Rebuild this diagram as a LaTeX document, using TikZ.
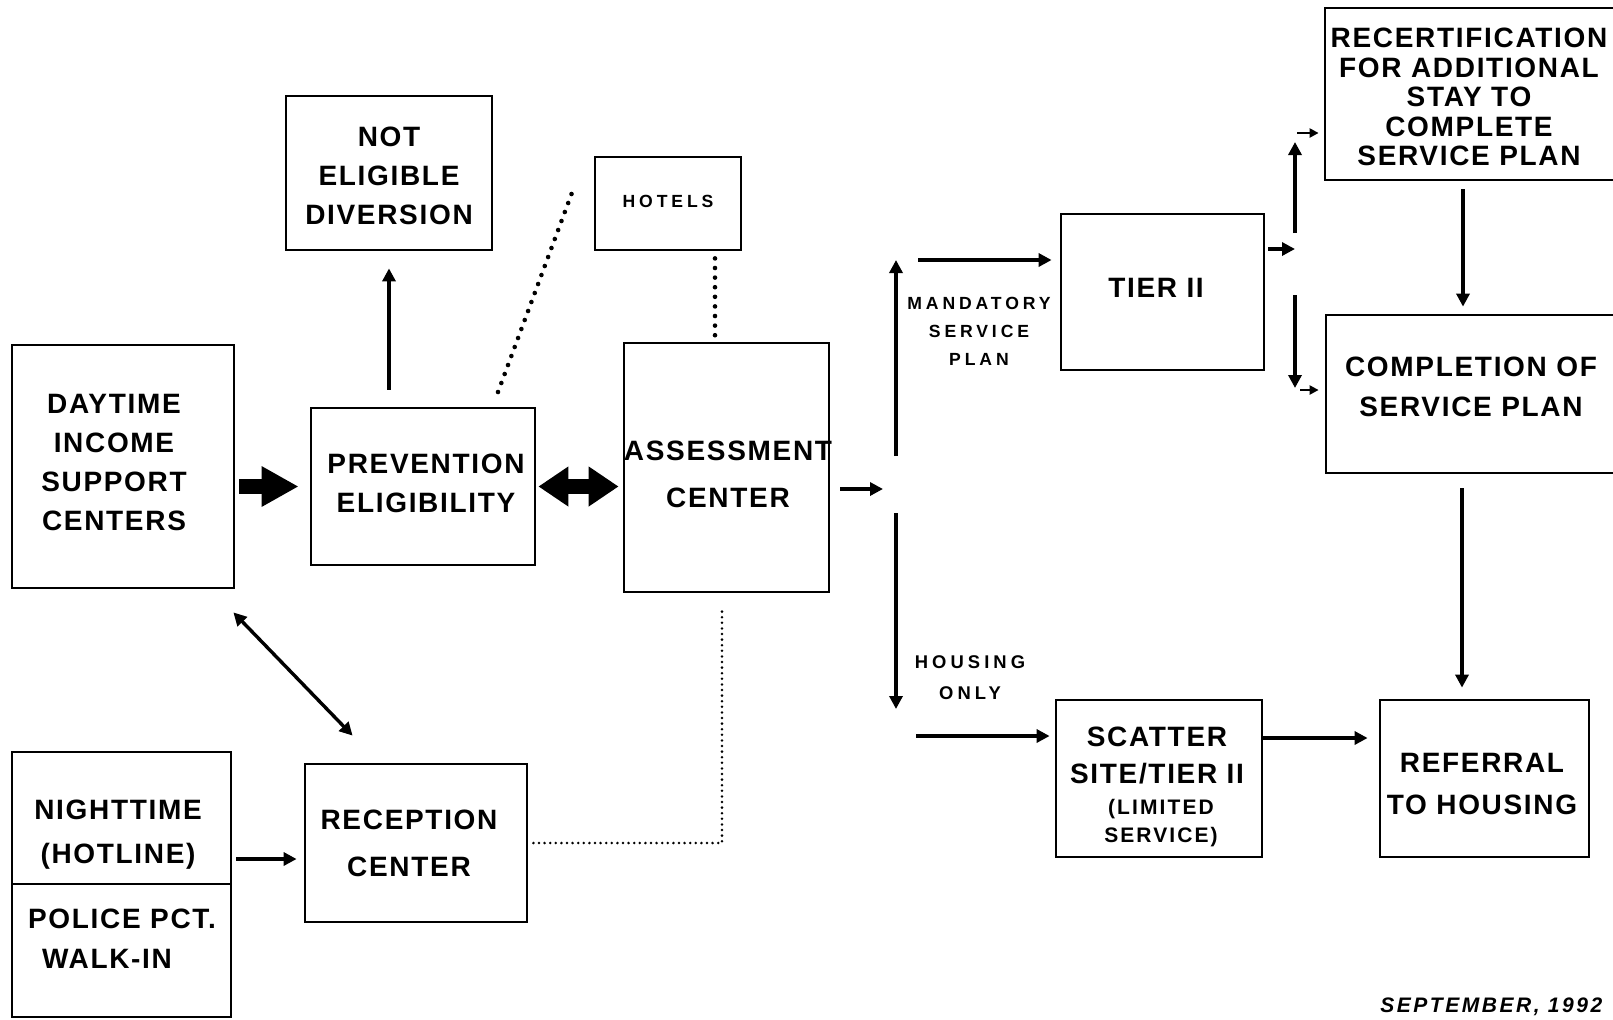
\documentclass[tikz,border=0pt]{standalone}
\usepackage{fontspec}
\setmainfont{Liberation Sans}
\newfontfamily\hvA[LetterSpace=6]{Liberation Sans}
\newfontfamily\hvB[LetterSpace=22]{Liberation Sans}
\newfontfamily\hvC[LetterSpace=10]{Liberation Sans}
\newfontfamily\hvD[LetterSpace=12]{Liberation Sans}
\usetikzlibrary{arrows.meta,calc}
\tikzset{
  box/.style={draw, line width=1.4pt, inner sep=0pt, rectangle},
  bigtxt/.style={align=center, inner sep=0pt, font=\hvA\bfseries\fontsize{14}{#1}\selectfont},
  bigtxt/.default=19.5pt,
  smalltxt/.style={align=center, inner sep=0pt, font=\hvB\bfseries\fontsize{8.8}{#1}\selectfont},
  smalltxt/.default=14pt,
  midtxt/.style={align=center, inner sep=0pt, font=\hvC\bfseries\fontsize{10.5}{#1}\selectfont},
  midtxt/.default=14pt,
  arr/.style={line width=1.7pt, -{Triangle[length=6.5pt,width=6.5pt]}},
  arrboth/.style={line width=1.7pt, {Triangle[length=6.5pt,width=6.5pt]}-{Triangle[length=6.5pt,width=6.5pt]}},
  sarr/.style={line width=1.1pt, -{Triangle[length=4.5pt,width=4.5pt]}},
  fat/.style={line width=7.5pt, -{Triangle[length=18.5pt,width=19pt]}},
  fatboth/.style={line width=7.5pt, {Triangle[length=15pt,width=19pt]}-{Triangle[length=15pt,width=19pt]}},
  dotbig/.style={line width=2.3pt, line cap=round, dash pattern=on 0pt off 4.8pt},
  dotsmall/.style={line width=1.4pt, line cap=round, dash pattern=on 0pt off 2.8pt},
}
\begin{document}
\begin{tikzpicture}[x=0.5pt,y=-0.5pt]
\useasboundingbox (0,0) rectangle (1613,1019);
\clip (0,0) rectangle (1613,1019);
\fill[white] (0,0) rectangle (1613,1019);

% boxes
\node[box, minimum width=103pt, minimum height=77pt] (noteli) at (389,173) {};
\node[box, minimum width=73pt, minimum height=46.5pt] (hotels) at (668,203.5) {};
\node[box, minimum width=111pt, minimum height=121.5pt] (day) at (123,466.5) {};
\node[box, minimum width=112pt, minimum height=78.5pt] (prev) at (423,486.5) {};
\node[box, minimum width=102.5pt, minimum height=124.5pt] (assess) at (726.5,467.5) {};
\node[box, minimum width=101.5pt, minimum height=78pt] (tier) at (1162.5,292) {};
\node[box, minimum width=157.5pt, minimum height=86pt] (recert) at (1482.5,94) {};
\node[box, minimum width=157pt, minimum height=79pt] (compl) at (1483,394) {};
\node[box, minimum width=104.5pt, minimum height=78.5pt] (ref) at (1484.5,778.5) {};
\node[box, minimum width=103pt, minimum height=78.5pt] (scat) at (1159,778.5) {};
\node[box, minimum width=111pt, minimum height=79pt] (rec) at (416,843) {};
\node[box, minimum width=109.5pt, minimum height=66pt] (night) at (121.5,818) {};
\node[box, minimum width=109.5pt, minimum height=66.5pt] (police) at (121.5,950.5) {};

% box texts
\node[bigtxt] (noteli-t) at (389,176) {NOT\\ELIGIBLE\\DIVERSION};
\node[smalltxt] (hotels-t) at (668,201) {HOTELS};
\node[bigtxt] (day-t) at (114,462) {DAYTIME\\INCOME\\SUPPORT\\CENTERS};
\node[bigtxt] (prev-t) at (426,483) {PREVENTION\\ELIGIBILITY};
\node[bigtxt=23.5pt] (assess-t) at (728,474) {\makebox[0pt][c]{ASSESSMENT}\\CENTER};
\node[bigtxt] (tier-t) at (1156,288) {TIER II};
\node[bigtxt=14.75pt] (recert-t) at (1469,97) {RECERTIFICATION\\FOR ADDITIONAL\\STAY TO\\COMPLETE\\SERVICE PLAN};
\node[bigtxt=20pt] (compl-t) at (1471,387) {COMPLETION OF\\SERVICE PLAN};
\node[bigtxt=21pt] (ref-t) at (1482,784) {REFERRAL\\TO HOUSING};
\node[bigtxt=18.5pt] (scat-t1) at (1157,755) {SCATTER\\SITE/TIER II};
\node[midtxt=14pt] (scat-t2) at (1161,823.5) {(LIMITED\\SERVICE)};
\node[bigtxt=23.5pt] (rec-t) at (409,843.5) {RECEPTION\\CENTER};
\node[bigtxt=22pt] (night-t) at (118,835) {NIGHTTIME\\(HOTLINE)};
\node[bigtxt] (police-t1) at (122,919) {POLICE PCT.};
\node[bigtxt] (police-t2) at (107,959) {WALK-IN};
\node[smalltxt=14pt] (mand-t) at (979,331) {MANDATORY\\SERVICE\\PLAN};
\node[smalltxt=15.5pt, font=\hvB\bfseries\fontsize{9.2}{15.5}\selectfont] (hous-t) at (970,678) {HOUSING\\ONLY};
\node[anchor=base west, inner sep=0pt, font=\hvD\bfseries\itshape\fontsize{10.5}{12}\selectfont] (date) at (1380,1012) {SEPTEMBER, 1992};

% free ends
\coordinate (dotS) at (498,392);
\coordinate (dotE) at (573,190);
\coordinate (brA) at (883,489);
\coordinate (vu1) at (896,456);
\coordinate (vu2) at (896,260);
\coordinate (vd1) at (896,513);
\coordinate (vd2) at (896,709);
\coordinate (mstart) at (918,260);
\coordinate (hstart) at (916,736);
\coordinate (tb) at (1295,249);
\coordinate (tu1) at (1295,233);
\coordinate (tu2) at (1295,142);
\coordinate (td1) at (1295,295);
\coordinate (td2) at (1295,388);
\coordinate (ra) at (1297,133);
\coordinate (rb) at (1300,390);

% connectors
\draw[fat, shorten <=2pt, shorten >=5.5pt] (day.east |- prev.west) -- (prev.west);
\draw[fatboth, shorten <=1pt, shorten >=2pt] (prev.east) -- (assess.west |- prev.east);
\draw[arr, shorten <=8.5pt, shorten >=8.5pt] (prev.north -| noteli.south) -- (noteli.south);
\draw[dotbig] (dotS) -- (dotE);
\draw[dotbig, shorten <=3.5pt] ([xshift=23.5pt]hotels.south) -- ([xshift=23.5pt]hotels.south |- assess.north);
\draw[dotsmall, shorten <=2.5pt, shorten >=8.5pt] (rec.east) -| ([xshift=-2.25pt]assess.south);
\draw[arrboth] ($(day.south east)+(-2,23)$) -- ($(rec.north west)+(49,-27)$);
\draw[arr, shorten <=2pt, shorten >=3.5pt] ([yshift=-20.5pt]night.east) -- ([yshift=-20.5pt]night.east -| rec.west);
\draw[arr, shorten <=5pt] (assess.east |- brA) -- (brA);
\draw[arr] (vu1) -- (vu2);
\draw[arr] (vd1) -- (vd2);
\draw[arr, shorten >=4pt] (mstart) -- (mstart -| tier.west);
\draw[arr, shorten >=2.5pt] (hstart) -- (hstart -| scat.west);
\draw[arr, shorten <=1.5pt] (tier.east |- tb) -- (tb);
\draw[arr] (tu1) -- (tu2);
\draw[arr] (td1) -- (td2);
\draw[sarr, shorten >=2.5pt] (ra) -- (ra -| recert.west);
\draw[sarr, shorten >=3pt] (rb) -- (rb -| compl.west);
\draw[arr, shorten <=4pt, shorten >=3.5pt] ([xshift=-9.75pt]recert.south) -- ([xshift=-9.75pt]recert.south |- compl.north);
\draw[arr, shorten <=7pt, shorten >=5.5pt] ([xshift=-10.5pt]compl.south) -- ([xshift=-10.5pt]compl.south |- ref.north);
\draw[arr, shorten >=5.5pt] ([yshift=20.25pt]scat.east) -- ([yshift=20.25pt]scat.east -| ref.west);
\end{tikzpicture}
\end{document}
